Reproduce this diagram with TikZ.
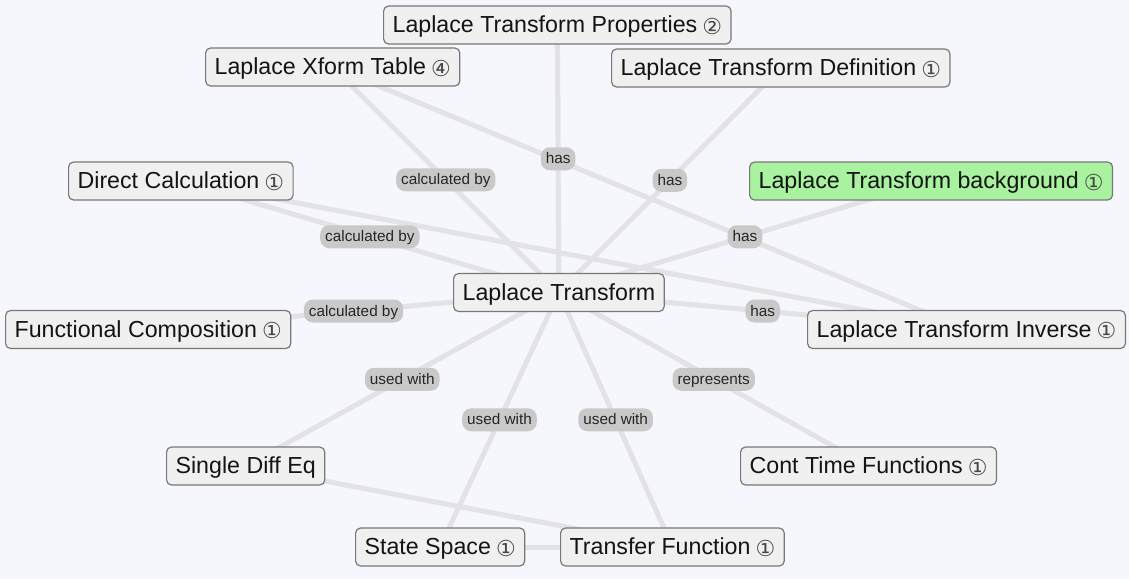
\documentclass[tikz,border=0pt]{standalone}
\usepackage{fontspec}
\setmainfont{Liberation Sans}
\newfontfamily\djv{DejaVu Sans}
\usetikzlibrary{backgrounds}
\definecolor{edgec}{RGB}{226,226,231}
\definecolor{pillc}{RGB}{201,201,201}
\definecolor{boxc}{RGB}{240,240,240}
\definecolor{borderc}{RGB}{120,120,120}
\definecolor{greenc}{RGB}{168,242,160}
\definecolor{bgc}{RGB}{246,247,252}
\tikzset{
  concept/.style={draw=borderc, line width=1.2pt, fill=boxc, rounded corners=5pt,
    minimum height=38pt, inner xsep=9pt, inner ysep=0pt, text height=18.5pt, text depth=3pt,
    font=\fontsize{23.2}{26}\selectfont, text=black!92, anchor=west},
  greenconcept/.style={concept, fill=greenc},
  link/.style={draw=edgec, line width=5pt},
  pill/.style={fill=pillc, rounded corners=9pt, inner xsep=5pt, inner ysep=0pt,
    minimum height=23pt, text height=12pt, text depth=2pt, font=\fontsize{15.3}{17}\selectfont, text=black!85},
}
\newcommand{\cnum}[1]{\hspace{5pt}\raisebox{-1.5pt}{\djv\fontsize{22}{22}\selectfont\textcolor{black!72}{#1}}}
\begin{document}
\begin{tikzpicture}[x=1pt,y=-1pt]
\useasboundingbox (0,0) rectangle (1129,579);
% nodes
\node[concept] (props) at (383,25) {Laplace Transform Properties\cnum{②}};
\node[concept] (xform) at (205,67) {Laplace Xform Table\cnum{④}};
\node[concept] (defn) at (611,68) {Laplace Transform Definition\cnum{①}};
\node[concept] (direct) at (68,181) {Direct Calculation\cnum{①}};
\node[greenconcept] (bg) at (749,181) {Laplace Transform background\cnum{①}};
\node[concept] (lt) at (453,292.5) {Laplace Transform};
\node[concept] (func) at (5,329.5) {Functional Composition\cnum{①}};
\node[concept] (inv) at (807,329.5) {Laplace Transform Inverse\cnum{①}};
\node[concept] (single) at (166,466) {Single Diff Eq};
\node[concept] (cont) at (740,466) {Cont Time Functions\cnum{①}};
\node[concept] (state) at (355,547) {State Space\cnum{①}};
\node[concept] (transfer) at (560,547) {Transfer Function\cnum{①}};
% background and edges
\begin{scope}[on background layer]
\fill[bgc] (0,0) rectangle (1129,579);
\path[link] (xform.center) -- (inv.center);
\path[link] (direct.center) -- (inv.center);
\path[link] (single.center) -- (transfer.center);
\path[link] (state.center) -- (transfer.center);
\path[link] (lt.center) -- node[pill] (l1) {has} (props.center);
\path[link] (lt.center) -- node[pill] (l2) {calculated by} (xform.center);
\path[link] (lt.center) -- node[pill] (l3) {has} (defn.center);
\path[link] (lt.center) -- node[pill] (l4) {calculated by} (direct.center);
\path[link] (lt.center) -- node[pill] (l5) {has} (bg.center);
\path[link] (lt.center) -- node[pill] (l6) {calculated by} (func.center);
\path[link] (lt.center) -- node[pill] (l7) {has} (inv.center);
\path[link] (lt.center) -- node[pill] (l8) {used with} (single.center);
\path[link] (lt.center) -- node[pill] (l9) {used with} (state.center);
\path[link] (lt.center) -- node[pill] (l10) {used with} (transfer.center);
\path[link] (lt.center) -- node[pill] (l11) {represents} (cont.center);
\end{scope}
\end{tikzpicture}
\end{document}
